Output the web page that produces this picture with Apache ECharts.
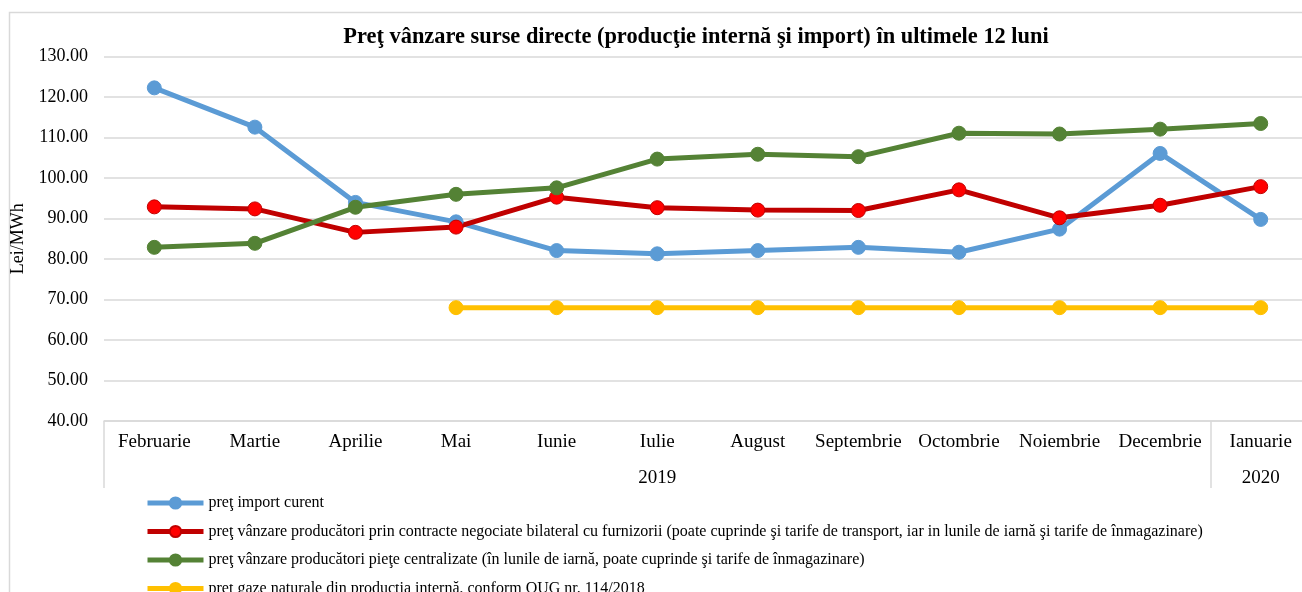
<!DOCTYPE html>
<html>
<head>
<meta charset="utf-8">
<script src="https://cdn.jsdelivr.net/npm/echarts@6/dist/echarts.min.js"></script>
<style>
html,body{margin:0;padding:0;background:#fff;}
#chart{width:1302px;height:592px;}
</style>
</head>
<body>
<div id="chart"></div>
<script>
const months = ['Februarie','Martie','Aprilie','Mai','Iunie','Iulie','August','Septembrie','Octombrie','Noiembrie','Decembrie','Ianuarie'];
const yearLabels = ['', '', '', '', '', '2019', '', '', '', '', '', '2020'];
const yTicks = [40,50,60,70,80,90,100,110,120,130];

const seriesNames = [
  'preţ import curent',
  'preţ vânzare producători prin contracte negociate bilateral cu furnizorii (poate cuprinde şi tarife de transport, iar in lunile de iarnă şi tarife de înmagazinare)',
  'preţ vânzare producători pieţe centralizate (în lunile de iarnă, poate cuprinde şi tarife de înmagazinare)',
  'preţ gaze naturale din producţia internă, conform OUG nr. 114/2018'
];
const importPrice = [122.3, 112.6, 94.0, 89.2, 82.1, 81.3, 82.1, 82.9, 81.7, 87.4, 106.1, 89.8];
const bilateralPrice = [92.9, 92.4, 86.6, 87.9, 95.3, 92.7, 92.1, 92.0, 97.1, 90.2, 93.3, 97.9];
const centralizedPrice = [82.9, 83.9, 92.8, 96.0, 97.6, 104.7, 105.9, 105.3, 111.1, 110.9, 112.1, 113.5];
const domesticPrice = [null, null, null, 68.0, 68.0, 68.0, 68.0, 68.0, 68.0, 68.0, 68.0, 68.0];

const FONT = '"Liberation Serif", "Times New Roman", serif';
const GRID_COLOR = '#D9D9D9';

const chart = echarts.init(document.getElementById('chart'), null, {renderer: 'canvas'});

function lineSeries(name, data, color, markerFill) {
  return {
    name: name,
    type: 'line',
    data: data,
    symbol: 'circle',
    symbolSize: 14,
    showSymbol: true,
    connectNulls: false,
    lineStyle: {color: color, width: 5},
    itemStyle: {color: markerFill || color, borderColor: color, borderWidth: 1},
    emphasis: {disabled: true},
    animation: false
  };
}

chart.setOption({
  backgroundColor: '#fff',
  animation: false,
  graphic: [{
    type: 'rect',
    left: 7, top: 10,
    shape: {width: 1400, height: 700},
    style: {fill: 'none', stroke: GRID_COLOR, lineWidth: 1.5},
    z: -10, silent: true
  }],
  title: {
    text: 'Preţ vânzare surse directe (producţie internă şi import) în ultimele 12 luni',
    left: 691, top: 21, textAlign: 'center',
    textStyle: {fontFamily: FONT, fontWeight: 'bold', fontSize: 22.4, color: '#000'}
  },
  legend: {
    orient: 'vertical',
    left: 145, top: 495,
    padding: 0,
    height: 300,
    itemWidth: 56, itemHeight: 14,
    itemGap: 12.5,
    data: seriesNames,
    lineStyle: {width: 5},
    textStyle: {fontFamily: FONT, fontSize: 16, color: '#000'},
    selectedMode: false
  },
  grid: {left: 104, top: 56.7, height: 364.3, width: 1207, containLabel: false, outerBoundsMode: 'none'},
  xAxis: [{
    type: 'category',
    data: months,
    boundaryGap: true,
    axisLine: {show: true, lineStyle: {color: GRID_COLOR, width: 1.5}},
    axisTick: {show: true, length: 67, lineStyle: {color: GRID_COLOR, width: 1.5},
      interval: function (i) { return i === 0 || i === 11; }},
    axisLabel: {fontFamily: FONT, fontSize: 19, color: '#000', margin: 12, interval: 0}
  }, {
    type: 'category',
    data: yearLabels.map((y, i) => months[i] + '|' + y),
    boundaryGap: true,
    position: 'bottom',
    axisLine: {show: false},
    axisTick: {show: false},
    axisLabel: {fontFamily: FONT, fontSize: 19, color: '#000', margin: 48, interval: 0,
      formatter: function (v) { return v.split('|')[1]; }}
  }],
  yAxis: {
    type: 'value',
    min: yTicks[0], max: yTicks[yTicks.length - 1], interval: 10,
    name: 'Lei/MWh',
    nameLocation: 'middle',
    nameGap: 59,
    nameTextStyle: {fontFamily: FONT, fontSize: 18, color: '#000'},
    axisLine: {show: false},
    axisTick: {show: false},
    splitLine: {show: true, lineStyle: {color: GRID_COLOR, width: 1.5}},
    axisLabel: {fontFamily: FONT, fontSize: 18, color: '#000', margin: 16,
      formatter: function (v) { return v.toFixed(2); }}
  },
  series: [
    lineSeries(seriesNames[0], importPrice, '#5B9BD5'),
    lineSeries(seriesNames[1], bilateralPrice, '#C00000', '#FF0000'),
    lineSeries(seriesNames[2], centralizedPrice, '#548235'),
    lineSeries(seriesNames[3], domesticPrice, '#FFC000')
  ]
});
</script>
</body>
</html>
